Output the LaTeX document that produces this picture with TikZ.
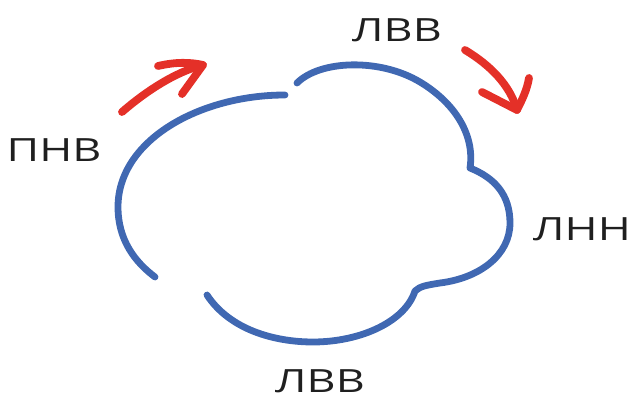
\documentclass[tikz,border=0pt]{standalone}
\usepackage{fontspec}
\setmainfont{Open Sans}
\definecolor{cloudblue}{RGB}{64,104,178}
\definecolor{arrowred}{RGB}{228,48,40}
\tikzset{
  cloud/.style={draw=cloudblue, line width=6.8pt, line cap=round, line join=round},
  redarrow/.style={draw=arrowred, line width=7.8pt, line cap=round, line join=round},
  lbl/.style={inner sep=0pt, font=\fontsize{32}{36}\selectfont, text=black!88}
}
\begin{document}
\begin{tikzpicture}[x=1pt, y=-1pt]
\useasboundingbox (0,0) rectangle (630,398);
% left arc
\draw[cloud] (285,95) .. controls (200,95) and (118,140) .. (118,207)
  .. controls (118,240) and (135,262) .. (155,277);
% top-right arc, right lobe, bottom arc
\draw[cloud] (297,83) .. controls (320,60) and (380,58) .. (420,82)
  .. controls (455,103) and (475,135) .. (470,168)
  .. controls (495,178) and (510,195) .. (510,223)
  .. controls (510,255) and (480,278) .. (440,283)
  .. controls (428,285) and (420,286) .. (415,291)
  .. controls (405,322) and (360,342) .. (313,342)
  .. controls (275,342) and (230,330) .. (207,295);
% red arrows
\coordinate (t1) at (122,112);
\coordinate (h1) at (203,65);
\coordinate (b1a) at (158,66);
\coordinate (b1b) at (182,94);
\draw[redarrow] (t1) .. controls (145,92) and (175,72) .. (h1);
\draw[redarrow] (b1a) .. controls (175,62) and (190,62) .. (h1) -- (b1b);
\coordinate (t2) at (465,50);
\coordinate (h2) at (517,110);
\coordinate (b2a) at (529,78);
\coordinate (b2b) at (482,92);
\draw[redarrow] (t2) .. controls (490,65) and (510,85) .. (h2);
\draw[redarrow] (b2a) .. controls (527,90) and (522,100) .. (h2) -- (b2b);
% labels
\node[lbl] (top) at (397,30) {\scalebox{1.4}[1]{ЛВВ}};
\node[lbl] (right) at (582,229) {\scalebox{1.4}[1]{ЛНН}};
\node[lbl] (left) at (54,150) {\scalebox{1.4}[1]{ПНВ}};
\node[lbl] (bottom) at (320,381) {\scalebox{1.4}[1]{ЛВВ}};
\end{tikzpicture}
\end{document}
